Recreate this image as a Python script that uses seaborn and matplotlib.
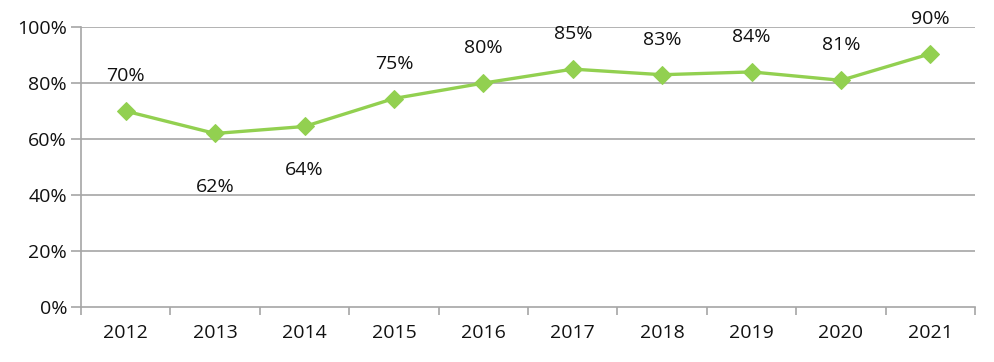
import matplotlib
matplotlib.use("Agg")
import matplotlib.pyplot as plt
import seaborn as sns
import pandas as pd
import numpy as np
from matplotlib.ticker import FixedLocator, PercentFormatter

years = ["2012", "2013", "2014", "2015", "2016", "2017", "2018", "2019", "2020", "2021"]
values = [0.70, 0.62, 0.645, 0.745, 0.80, 0.85, 0.83, 0.84, 0.81, 0.905]
labels = ["70%", "62%", "64%", "75%", "80%", "85%", "83%", "84%", "81%", "90%"]
below = [False, True, True, False, False, False, False, False, False, False]

sns.set_theme(style="white")
plt.rcParams["font.family"] = ["Open Sans", "DejaVu Sans"]

df = pd.DataFrame({"pos": np.arange(len(years)), "value": values})

fig = plt.figure(figsize=(9.95, 3.62), dpi=100)
ax = fig.add_axes([0.0814, 0.152, 0.8986, 0.773])

grid_c = "#a6a6a6"
txt_c = "#111111"
fs = 14
for y in [0.2, 0.4, 0.6, 0.8, 1.0]:
    ax.axhline(y, color=grid_c, lw=1.2, zorder=0)

sns.lineplot(data=df, x="pos", y="value", ax=ax, color="#92D050", lw=2.4,
             marker="D", markersize=9, markeredgecolor="#92D050", zorder=3)

for i, (v, t, b) in enumerate(zip(values, labels, below)):
    off = -0.19 if b else 0.125
    if i == 2:
        off = -0.155
    ax.text(i, v + off, t, ha="center", va="center", fontsize=fs, color=txt_c)

ax.set_xlim(-0.5, len(years) - 0.5)
ax.set_ylim(0, 1.0)
ax.yaxis.set_major_locator(FixedLocator([0, 0.2, 0.4, 0.6, 0.8, 1.0]))
ax.yaxis.set_major_formatter(PercentFormatter(1.0, decimals=0))
ax.xaxis.set_major_locator(FixedLocator(np.arange(-0.5, len(years), 1.0)))
ax.set_xticklabels([])
ax.set_xticks(np.arange(len(years)), minor=True)
ax.set_xticklabels(years, minor=True)
ax.tick_params(axis="x", which="major", length=6, width=1.2, color=grid_c, direction="out", bottom=True)
ax.tick_params(axis="x", which="minor", length=0, pad=12, labelsize=fs, labelcolor=txt_c)
ax.tick_params(axis="y", which="major", length=7, width=1.2, color=grid_c, direction="out", left=True,
               labelsize=fs, labelcolor=txt_c, pad=3)
ax.set_xlabel("")
ax.set_ylabel("")
for s in ["top", "right"]:
    ax.spines[s].set_visible(False)
for s in ["left", "bottom"]:
    ax.spines[s].set_color(grid_c)
    ax.spines[s].set_linewidth(1.2)

fig.savefig("out.png", dpi=100)
